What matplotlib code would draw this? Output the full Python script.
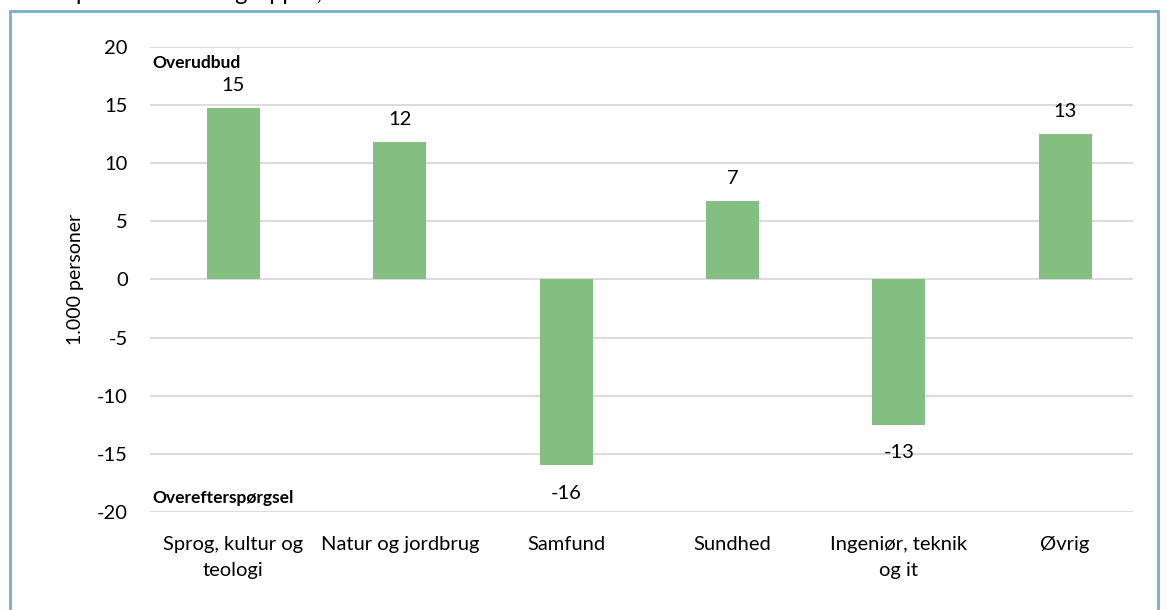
import matplotlib.pyplot as plt
from matplotlib.patches import Rectangle
import numpy as np

# data
categories = ["Sprog, kultur og\nteologi", "Natur og jordbrug", "Samfund",
              "Sundhed", "Ingeniør, teknik\nog it", "Øvrig"]
values = [14.75, 11.8, -16.0, 6.75, -12.5, 12.5]
value_labels = ["15", "12", "-16", "7", "-13", "13"]
y_ticks = [-20, -15, -10, -5, 0, 5, 10, 15, 20]

plt.rcParams['font.family'] = ['Lato', 'DejaVu Sans']

fig = plt.figure(figsize=(11.67, 6.10), dpi=100)
ax = fig.add_axes([0.1285, 0.1607, 0.8425, 0.7623])

x = np.arange(len(categories))
ax.bar(x, values, width=0.32, color="#84bf82", zorder=3)

for xi, v, lab in zip(x, values, value_labels):
    if v >= 0:
        ax.annotate(lab, (xi, v), xytext=(0, 10), textcoords="offset points",
                    ha="center", va="bottom", fontsize=14.5)
    else:
        ax.annotate(lab, (xi, v), xytext=(0, -14), textcoords="offset points",
                    ha="center", va="top", fontsize=14.5)

ax.set_xlim(-0.502, 5.409)
ax.set_ylim(-20, 20)
ax.set_yticks(y_ticks)
ax.set_yticklabels([str(t) for t in y_ticks], fontsize=14.5)
ax.set_xticks(x)
ax.set_xticklabels(categories, fontsize=14.5, linespacing=1.7)
ax.tick_params(axis="y", length=0, pad=16)
ax.tick_params(axis="x", length=0, pad=17)
ax.grid(axis="y", color="#d9d9d9", linewidth=1.3, zorder=0)
for s in ax.spines.values():
    s.set_visible(False)
ax.set_ylabel("1.000 personer", fontsize=14, labelpad=9)

ax.text(0.002, 0.965, "Overudbud", transform=ax.transAxes, fontsize=12.5,
        fontweight="bold", ha="left", va="center")
ax.text(0.002, 0.03, "Overefterspørgsel", transform=ax.transAxes, fontsize=12.5,
        fontweight="bold", ha="left", va="center")

# frame around the chart (runs past bottom edge)
fig.patches.append(Rectangle((10 / 1167, -0.05), 1148 / 1167, 1 - 11 / 610 + 0.05,
                             transform=fig.transFigure, fill=False,
                             edgecolor="#79abca", linewidth=2))

# title text from the page above, cut off at the top edge as in the source
fig.text(0.0, 1.0, "fordelt på uddannelsesgrupper, 2030", fontsize=17,
         ha="left", va="baseline")

fig.savefig("out.png", dpi=100)
